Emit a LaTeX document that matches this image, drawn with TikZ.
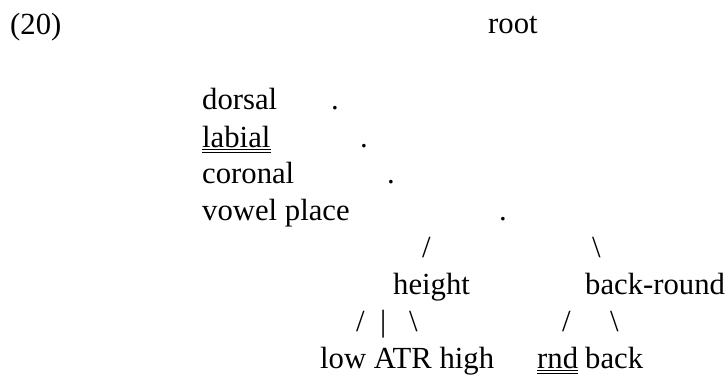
\documentclass[tikz,border=0pt]{standalone}
\usepackage{fontspec}
\setmainfont{Liberation Serif}
\newfontfamily\tnr{Liberation Serif}
\usepackage{tikz}

\begin{document}
\begin{tikzpicture}[x=1pt,y=-1pt,
  font=\tnr\fontsize{30.7}{36}\selectfont,
  lbl/.style={anchor=base west,inner sep=0pt},
  dbl/.style={line width=0.8pt}]
  \useasboundingbox (0,0) rectangle (727,377);
  \node[lbl] (ex) at (10,35) {(20)};
  \node[lbl] (root) at (488,34) {root};
  % place features and their dots
  \node[lbl] (dors) at (202,110) {dorsal};
  \node[lbl] (dorsdot) at (331,110) {.};
  \node[lbl] (lab) at (202,147) {labial};
  \node[lbl] (labdot) at (360,147) {.};
  \node[lbl] (cor) at (202,183) {coronal};
  \node[lbl] (cordot) at (387,183) {.};
  \node[lbl] (vpl) at (202,220) {vowel place};
  \node[lbl] (vpldot) at (499,220) {.};
  % vowel place branches
  \node[lbl] (sl) at (422,257) {/};
  \node[lbl] (bs) at (592,257) {\textbackslash};
  \node[lbl] (hgt) at (393,294) {height};
  \node[lbl] (bkr) at (585,294) {back-round};
  \node[lbl] (hsl) at (356,331) {/};
  \node[lbl] (hbar) at (380,331) {|};
  \node[lbl] (hbs) at (409,331) {\textbackslash};
  \node[lbl] (bsl) at (562,331) {/};
  \node[lbl] (bbs) at (610,331) {\textbackslash};
  \node[lbl] (lah) at (320,368) {low ATR high};
  \node[lbl] (rnd) at (537,368) {rnd};
  \node[lbl] (back) at (585,368) {back};
  % double underlines
  \draw[dbl] ([yshift=-2.3pt]lab.base west) -- ([yshift=-2.3pt]lab.base east);
  \draw[dbl] ([yshift=-4.9pt]lab.base west) -- ([yshift=-4.9pt]lab.base east);
  \draw[dbl] ([yshift=-2.3pt]rnd.base west) -- ([yshift=-2.3pt]rnd.base east);
  \draw[dbl] ([yshift=-4.9pt]rnd.base west) -- ([yshift=-4.9pt]rnd.base east);
\end{tikzpicture}
\end{document}
